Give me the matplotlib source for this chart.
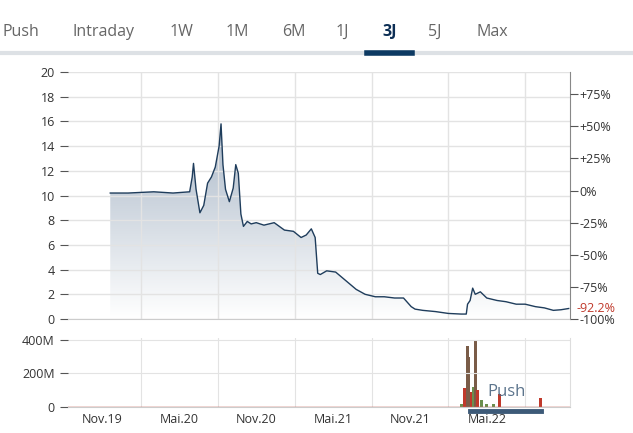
import matplotlib
matplotlib.use("Agg")
import matplotlib.pyplot as plt
import numpy as np
from matplotlib.colors import LinearSegmentedColormap

plt.rcParams['font.family'] = ['Open Sans', 'DejaVu Sans']

# months since Nov 2019
t = [0.6, 2, 4, 5.5, 6.8, 7.0, 7.1, 7.3, 7.6, 7.9, 8.2, 8.5, 8.8, 9.1, 9.25, 9.4, 9.6, 9.9, 10.2, 10.4, 10.6,
     10.8, 11.0, 11.3, 11.6, 12, 12.6, 13.4, 14.2, 14.9, 15.5, 15.9, 16.3, 16.6, 16.8, 17.0, 17.5,
     18.2, 19.0, 19.8, 20.5, 21.3, 22.0, 22.8, 23.5, 24.1, 24.4, 25.0, 26.0, 27.0, 28.0, 28.4,
     28.5, 28.7, 28.9, 29.1, 29.5, 30.0, 30.8, 31.5, 32.3, 33.0, 33.8, 34.5, 35.2, 35.8, 36.4]
price = [10.2, 10.2, 10.3, 10.2, 10.3, 11.5, 12.6, 10.5, 8.6, 9.2, 11.0, 11.5, 12.3, 14.0, 15.8, 12.5, 10.5,
         9.5, 10.6, 12.5, 11.8, 8.5, 7.5, 7.9, 7.7, 7.8, 7.6, 7.8, 7.2, 7.1, 6.6, 6.8, 7.3, 6.6, 3.7,
         3.6, 3.9, 3.8, 3.1, 2.4, 2.0, 1.8, 1.8, 1.7, 1.7, 1.0, 0.8, 0.7, 0.6, 0.45, 0.4, 0.4,
         1.2, 1.5, 2.5, 2.0, 2.2, 1.7, 1.5, 1.4, 1.2, 1.2, 1.0, 0.9, 0.7, 0.75, 0.85]
base = 10.4
pct_ticks = [75, 50, 25, 0, -25, -50, -75, -100]

vol_t = [28.0, 28.3, 28.5, 28.6, 28.8, 29.0, 29.1, 29.3, 29.6, 30.0, 30.5, 31.0, 34.2]
vol = [15, 110, 360, 300, 90, 120, 400, 100, 40, 20, 15, 80, 55]
vol_c = ['#6b8f4e', '#c0392b', '#7a5c48', '#7a5c48', '#c0392b', '#6b8f4e', '#7a5c48', '#c0392b',
         '#6b8f4e', '#6b8f4e', '#6b8f4e', '#c0392b', '#c0392b']

xlabels = ['Nov.19', 'Mai.20', 'Nov.20', 'Mai.21', 'Nov.21', 'Mai.22']
tabs = ['Push', 'Intraday', '1W', '1M', '6M', '1J', '3J', '5J', 'Max']
tab_x = [2, 72, 170, 226, 282, 336, 382, 428, 476]

fig = plt.figure(figsize=(6.33, 4.33), dpi=100)
for tx, lab in zip(tab_x, tabs):
    fig.text(tx/633, 1-32/433, lab, fontsize=11.5, va='center', ha='left',
             color='#0d2f55' if lab == '3J' else '#666666', fontweight='bold' if lab == '3J' else 'normal')
fig.add_artist(plt.Line2D([0, 1], [1-53/433]*2, color='#dde1e5', lw=3))
fig.add_artist(plt.Line2D([367/633, 412/633], [1-53/433]*2, color='#0d3a63', lw=4))

xl = (-2.7, 36.5)
ax = fig.add_axes([68/633, 1-319/433, 502/633, 247/433])
ax.plot(t, price, color='#1f3d5c', lw=1)
cm = LinearSegmentedColormap.from_list('g', ['#ffffff', '#a9b7c7'])
im = ax.imshow(np.linspace(0, 1, 200).reshape(-1, 1), extent=[xl[0], xl[1], 0, 16], origin='lower',
               aspect='auto', cmap=cm, zorder=0)
poly = ax.fill_between(t, price, 0, color='none')
im.set_clip_path(poly.get_paths()[0], transform=ax.transData)
ax.set_xlim(*xl)
ax.set_ylim(0, 20)
ax.set_yticks(range(0, 21, 2))
ax.set_xticks([3, 9, 15, 21, 27, 33])
ax.set_xticklabels([])
ax.tick_params(axis='x', length=0)
ax.tick_params(axis='y', direction='out', length=6, color='#555', labelsize=9, labelcolor='#333')
ax.grid(True, color='#e3e3e3', lw=1)
for s in ['top', 'left']:
    ax.spines[s].set_visible(False)
ax.spines['right'].set_color('#888')
ax.spines['bottom'].set_color('#ccc')
ax2 = ax.twinx()
ax2.set_ylim(0, 20)
ax2.set_yticks([base*(1+p/100) for p in pct_ticks])
ax2.set_yticklabels([('+%d%%' % p) if p > 0 else ('%d%%' % p) for p in pct_ticks],
                    fontsize=9, color='#333')
ax2.tick_params(axis='y', direction='out', length=6, color='#555', pad=1)
for s in ['top', 'left', 'bottom', 'right']:
    ax2.spines[s].set_visible(False)
cur = price[-1]
ax2.text(1.012, cur/20, '-92.2%', transform=ax2.transAxes, color='#c0392b', fontsize=9, va='center')

axv = fig.add_axes([68/633, 1-407/433, 502/633, 69/433])
axv.bar(vol_t, vol, width=0.25, color=vol_c)
axv.set_xlim(*xl)
axv.set_ylim(0, 410)
axv.set_yticks([0, 200, 400])
axv.set_yticklabels(['0', '200M', '400M'])
axv.set_xticks([0, 6, 12, 18, 24, 30])
axv.set_xticklabels(xlabels)
axv.set_xticks([3, 9, 15, 21, 27, 33], minor=True)
axv.tick_params(axis='x', which='both', length=0, labelsize=9, labelcolor='#333', pad=4)
axv.tick_params(axis='y', direction='out', length=6, color='#555', labelsize=9, labelcolor='#333')
axv.grid(True, which='minor', axis='x', color='#e3e3e3')
axv.grid(True, which='major', axis='y', color='#e3e3e3')
axv.axhline(0, color='#c0392b', lw=1)
for s in ['top', 'left']:
    axv.spines[s].set_visible(False)
axv.spines['right'].set_color('#ddd'); axv.spines['bottom'].set_color('#ccc')
fig.text(487/633, 1-392/433, 'Push', fontsize=12, color='#4a6580', va='center', alpha=0.9)
fig.add_artist(plt.Line2D([470/633, 541/633], [1-411/433]*2, color='#3d5a78', lw=3.5))
fig.savefig('out.png', dpi=100)
